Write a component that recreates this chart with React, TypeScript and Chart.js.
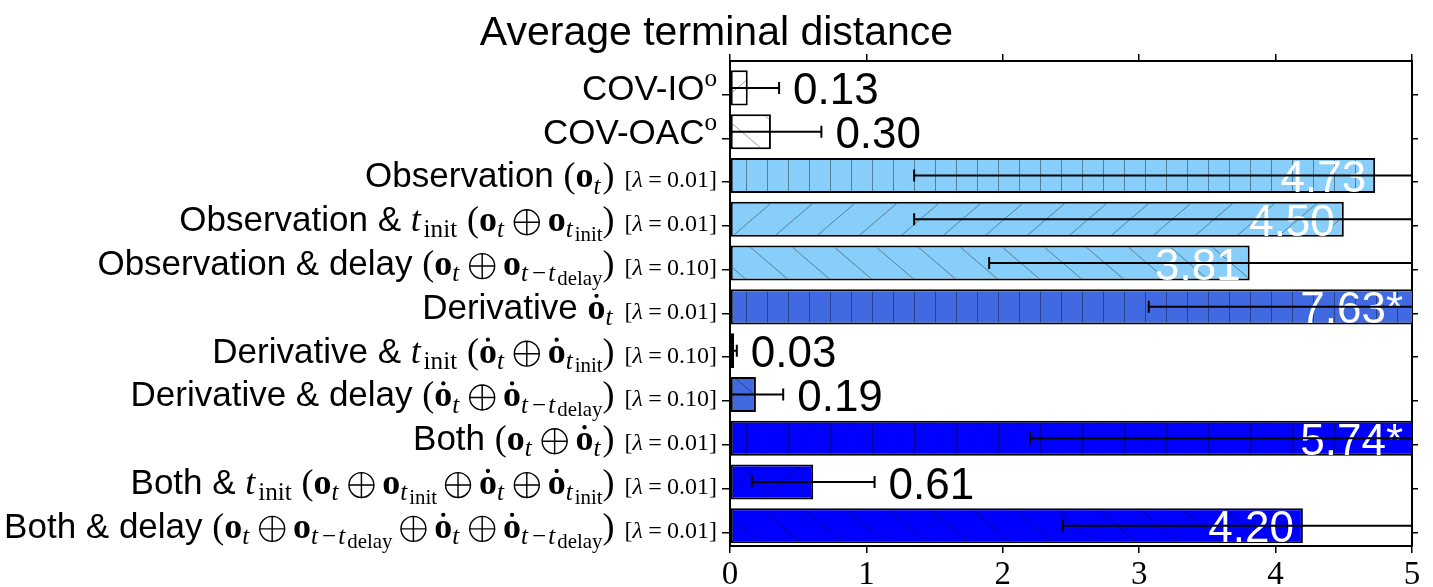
import React, { useEffect, useRef } from 'react';
import { Chart, registerables } from 'chart.js';

Chart.register(...registerables);

const SANS = "'Liberation Sans', Arial, Helvetica, sans-serif";
const SERIF = "'Liberation Serif', 'DejaVu Serif', 'Times New Roman', serif";

// Row labels: plain text, with $...$ marking math (o = bold o, ȯ = bold o with dot, t = italic t)
const categories = [
  'COV-IO$^{o}$',
  'COV-OAC$^{o}$',
  'Observation $(o_t)$',
  'Observation & $t_{init}$ $(o_t ⊕ o_{t_{init}})$',
  'Observation & delay $(o_t ⊕ o_{t−t_{delay}})$',
  'Derivative $ȯ_t$',
  'Derivative & $t_{init}$ $(ȯ_t ⊕ ȯ_{t_{init}})$',
  'Derivative & delay $(ȯ_t ⊕ ȯ_{t−t_{delay}})$',
  'Both $(o_t ⊕ ȯ_t)$',
  'Both & $t_{init}$ $(o_t ⊕ o_{t_{init}} ⊕ ȯ_t ⊕ ȯ_{t_{init}})$',
  'Both & delay $(o_t ⊕ o_{t−t_{delay}} ⊕ ȯ_t ⊕ ȯ_{t−t_{delay}})$',
];
const lambdas = ['', '', '0.01', '0.01', '0.10', '0.01', '0.10', '0.10', '0.01', '0.01', '0.01'];
const means = [0.13, 0.3, 4.73, 4.5, 3.81, 7.63, 0.03, 0.19, 5.74, 0.61, 4.2];
const errors = [0.23, 0.37, 3.38, 3.15, 1.91, 4.56, 0.02, 0.2, 3.54, 0.45, 1.76];
const significant = [false, false, false, false, false, true, false, false, true, false, false];
const fillColors = [
  '#ffffff', '#ffffff',
  '#87cefa', '#87cefa', '#87cefa',
  '#4169e1', '#4169e1', '#4169e1',
  '#0000ff', '#0000ff', '#0000ff',
];
const hatches = ['/', '\\', '|', '/', '\\', '|', '/', '\\', '|', '/', '\\'];
const xTicks = [0, 1, 2, 3, 4, 5];
const title = 'Average terminal distance';

const LABEL_SIZE = 35;
const MATH_SIZE = 36;
const LAMBDA_SIZE = 24;
const VALUE_SIZE = 44;
const LEVEL_SCALE = [1, 0.7, 0.58];

type Item = {
  t: string;
  f: 'sans' | 'rm' | 'it' | 'bf' | 'op';
  size: number;
  dy: number;
  dot?: boolean;
  padL: number;
  padR: number;
};

function mathItems(s: string, M: number, level: number, dy: number, out: Item[], sup: boolean) {
  const size = M * LEVEL_SCALE[Math.min(level, 2)];
  let i = 0;
  while (i < s.length) {
    const c = s[i];
    if (c === '_' || c === '^') {
      let grp = '';
      if (s[i + 1] === '{') {
        let depth = 0;
        let j = i + 1;
        for (; j < s.length; j++) {
          if (s[j] === '{') depth++;
          else if (s[j] === '}') {
            depth--;
            if (depth === 0) break;
          }
        }
        grp = s.slice(i + 2, j);
        i = j + 1;
      } else {
        grp = s[i + 1];
        i += 2;
      }
      const shift = c === '_' ? (level === 0 ? 0.17 : 0.1) * M : -0.38 * M;
      mathItems(grp, M, level + 1, dy + shift, out, c === '^');
      continue;
    }
    if (c === ' ') {
      i++;
      continue;
    }
    if (/[a-z]/.test(c)) {
      let j = i;
      while (j < s.length && /[a-z]/.test(s[j])) j++;
      const w = s.slice(i, j);
      const f = sup ? 'rm' : w === 'o' ? 'bf' : w === 't' ? 'it' : 'rm';
      // italic letters get a little room after them
      out.push({ t: w, f, size, dy, padL: 0, padR: f === 'it' ? 0.08 * size : 0 });
      i = j;
      continue;
    }
    if (c === 'ȯ') {
      out.push({ t: 'o', f: 'bf', size, dy, dot: true, padL: 0, padR: 0 });
      i++;
      continue;
    }
    if (c === '⊕') {
      // drawn as a thin circled plus
      out.push({ t: '', f: 'op', size, dy, padL: 0.22 * size, padR: 0.22 * size });
      i++;
      continue;
    }
    let pad = 0;
    if (c === '=' || c === '−') pad = level === 0 ? 0.22 * size : 0.08 * size;
    out.push({ t: c, f: c === 'λ' ? 'it' : 'rm', size, dy, padL: pad, padR: pad });
    i++;
  }
}

function buildLabel(label: string, lam: string): Item[] {
  const items: Item[] = [];
  label.split('$').forEach((p, k) => {
    if (k % 2 === 0) {
      if (p) items.push({ t: p, f: 'sans', size: LABEL_SIZE, dy: 0, padL: 0, padR: 0 });
    } else {
      mathItems(p, MATH_SIZE, 0, 0, items, false);
    }
  });
  if (lam) {
    items.push({ t: '', f: 'sans', size: LABEL_SIZE, dy: 0, padL: 10, padR: 0 });
    mathItems(`[λ=${lam}]`, LAMBDA_SIZE, 0, 0, items, false);
  }
  return items;
}

function fontFor(it: Item) {
  switch (it.f) {
    case 'sans':
      return `${it.size}px ${SANS}`;
    case 'it':
      return `italic ${it.size}px ${SERIF}`;
    case 'bf':
      return `bold ${it.size}px ${SERIF}`;
    default:
      return `${it.size}px ${SERIF}`;
  }
}

function makeHatch(kind: string, fill: string): CanvasPattern | string {
  const tile = document.createElement('canvas');
  const vertical = kind === '|';
  const W = vertical ? 21 : 42;
  const H = vertical ? 21 : 36;
  tile.width = W;
  tile.height = H;
  const c = tile.getContext('2d');
  if (!c) return fill;
  c.fillStyle = fill;
  c.fillRect(0, 0, W, H);
  c.strokeStyle = 'rgba(0,0,0,0.38)';
  c.lineWidth = 1;
  if (vertical) {
    c.fillStyle = 'rgba(0,0,0,0.38)';
    c.fillRect(11, 0, 1, H);
  } else {
    for (const off of [-W, 0, W]) {
      c.beginPath();
      if (kind === '/') {
        c.moveTo(off, H);
        c.lineTo(off + W, 0);
      } else {
        c.moveTo(off, 0);
        c.lineTo(off + W, H);
      }
      c.stroke();
    }
  }
  return c.createPattern(tile, 'repeat') || fill;
}

const titlePlugin = {
  id: 'figureTitle',
  afterDraw(chart: any) {
    const ctx = chart.ctx;
    ctx.save();
    ctx.fillStyle = '#000';
    ctx.font = `41px ${SANS}`;
    ctx.textAlign = 'center';
    ctx.textBaseline = 'alphabetic';
    ctx.fillText(title, chart.width / 2, 45);
    ctx.restore();
  },
};

const rowLabelPlugin = {
  id: 'rowLabels',
  afterDraw(chart: any) {
    const ctx = chart.ctx;
    const yScale = chart.scales.y;
    const right = chart.chartArea.left - 13;
    ctx.save();
    ctx.fillStyle = '#000';
    ctx.strokeStyle = '#000';
    ctx.textAlign = 'left';
    ctx.textBaseline = 'alphabetic';
    categories.forEach((label, i) => {
      const items = buildLabel(label, lambdas[i]);
      const widths = items.map((it) => {
        if (it.f === 'op') return 0.72 * it.size;
        ctx.font = fontFor(it);
        return ctx.measureText(it.t).width;
      });
      const total = items.reduce((a, it, k) => a + it.padL + widths[k] + it.padR, 0);
      const base = yScale.getPixelForValue(i) + 12;
      let x = right - total;
      items.forEach((it, k) => {
        x += it.padL;
        const y0 = base + it.dy;
        if (it.f === 'op') {
          const r = widths[k] / 2;
          const cx = x + r;
          const cy = y0 - 0.25 * it.size;
          ctx.lineWidth = Math.max(1, it.size * 0.04);
          ctx.beginPath();
          ctx.arc(cx, cy, r - 0.5, 0, Math.PI * 2);
          ctx.moveTo(cx - r + 0.5, cy);
          ctx.lineTo(cx + r - 0.5, cy);
          ctx.moveTo(cx, cy - r + 0.5);
          ctx.lineTo(cx, cy + r - 0.5);
          ctx.stroke();
        } else {
          ctx.font = fontFor(it);
          ctx.fillText(it.t, x, y0);
        }
        if (it.dot) {
          ctx.beginPath();
          ctx.arc(x + widths[k] / 2, y0 - 0.64 * it.size, 0.06 * it.size, 0, Math.PI * 2);
          ctx.fill();
        }
        x += widths[k] + it.padR;
      });
    });
    ctx.restore();
  },
};

const valueAndErrorPlugin = {
  id: 'valuesAndErrors',
  afterDatasetsDraw(chart: any) {
    const ctx = chart.ctx;
    const xs = chart.scales.x;
    const ys = chart.scales.y;
    const area = chart.chartArea;
    ctx.save();
    // value labels
    ctx.font = `${VALUE_SIZE}px ${SANS}`;
    ctx.textBaseline = 'alphabetic';
    means.forEach((v, i) => {
      const yc = ys.getPixelForValue(i);
      const text = v.toFixed(2) + (significant[i] ? '*' : '');
      if (v >= 1) {
        ctx.fillStyle = '#fff';
        ctx.textAlign = 'right';
        ctx.fillText(text, Math.min(xs.getPixelForValue(v), area.right) - 9, yc + 16.5);
      } else {
        ctx.fillStyle = '#000';
        ctx.textAlign = 'left';
        ctx.fillText(text, xs.getPixelForValue(v + errors[i]) + 14, yc + 16.5);
      }
    });
    // error bars, clipped to the axes
    ctx.beginPath();
    ctx.rect(area.left, area.top, area.right - area.left, area.bottom - area.top);
    ctx.clip();
    ctx.strokeStyle = '#000';
    ctx.lineWidth = 2;
    means.forEach((v, i) => {
      const yc = ys.getPixelForValue(i);
      const x1 = xs.getPixelForValue(v - errors[i]);
      const x2 = xs.getPixelForValue(v + errors[i]);
      ctx.beginPath();
      ctx.moveTo(x1, yc);
      ctx.lineTo(x2, yc);
      ctx.moveTo(x1, yc - 6);
      ctx.lineTo(x1, yc + 6);
      ctx.moveTo(x2, yc - 6);
      ctx.lineTo(x2, yc + 6);
      ctx.stroke();
    });
    ctx.restore();
  },
};

export default function App() {
  const ref = useRef<HTMLCanvasElement>(null);

  useEffect(() => {
    document.body.style.margin = '0';
    const canvas = ref.current;
    if (!canvas) return;

    const frame = { display: true, color: '#000', width: 2 };
    const tickGrid = (len: number) => ({
      drawOnChartArea: false,
      drawTicks: true,
      tickLength: len,
      color: '#000',
      lineWidth: 1.5,
      offset: false,
    });
    const rowTicks = (s: any) => {
      s.ticks = categories.map((_, i) => ({ value: i + 0.15 }));
    };
    const valueTicks = (s: any) => {
      s.ticks = xTicks.map((v) => ({ value: v }));
    };
    const yMin = -0.614;
    const yMax = 10.46;

    const chart = new Chart(canvas, {
      type: 'bar',
      data: {
        datasets: [
          {
            data: means.map((v, i) => ({ x: v, y: i })),
            backgroundColor: fillColors.map((c, i) => makeHatch(hatches[i], c)) as any,
            borderColor: '#000',
            borderWidth: 2,
            borderSkipped: false,
            barPercentage: 0.8,
            categoryPercentage: 1,
            xAxisID: 'x',
            yAxisID: 'y',
          },
        ],
      },
      options: {
        indexAxis: 'y',
        responsive: false,
        animation: false,
        layout: { padding: 0, autoPadding: false },
        plugins: {
          legend: { display: false },
          tooltip: { enabled: false },
          title: { display: false },
        },
        scales: {
          x: {
            type: 'linear',
            position: 'bottom',
            min: 0,
            max: 5,
            offset: false,
            afterBuildTicks: valueTicks,
            afterFit: (s: any) => {
              s.height = 41;
            },
            ticks: {
              color: '#000',
              font: { family: SERIF, size: 33 },
              padding: 3,
              maxRotation: 0,
            },
            grid: tickGrid(7),
            border: frame,
          },
          x2: {
            type: 'linear',
            position: 'top',
            min: 0,
            max: 5,
            offset: false,
            afterBuildTicks: valueTicks,
            afterFit: (s: any) => {
              s.height = 61;
            },
            ticks: { display: false },
            grid: tickGrid(7),
            border: frame,
          },
          y: {
            type: 'linear',
            position: 'left',
            reverse: true,
            offset: false,
            bounds: 'data',
            min: yMin,
            max: yMax,
            afterBuildTicks: rowTicks,
            afterFit: (s: any) => {
              s.width = 730;
            },
            ticks: { display: false },
            grid: tickGrid(8),
            border: frame,
          },
          y2: {
            type: 'linear',
            position: 'right',
            reverse: true,
            offset: false,
            bounds: 'data',
            min: yMin,
            max: yMax,
            afterBuildTicks: rowTicks,
            afterFit: (s: any) => {
              s.width = 21;
            },
            ticks: { display: false },
            grid: tickGrid(6),
            border: frame,
          },
        },
      } as any,
      plugins: [titlePlugin, rowLabelPlugin, valueAndErrorPlugin],
    });

    return () => chart.destroy();
  }, []);

  return <canvas ref={ref} width={1433} height={587} style={{ display: 'block' }} />;
}
